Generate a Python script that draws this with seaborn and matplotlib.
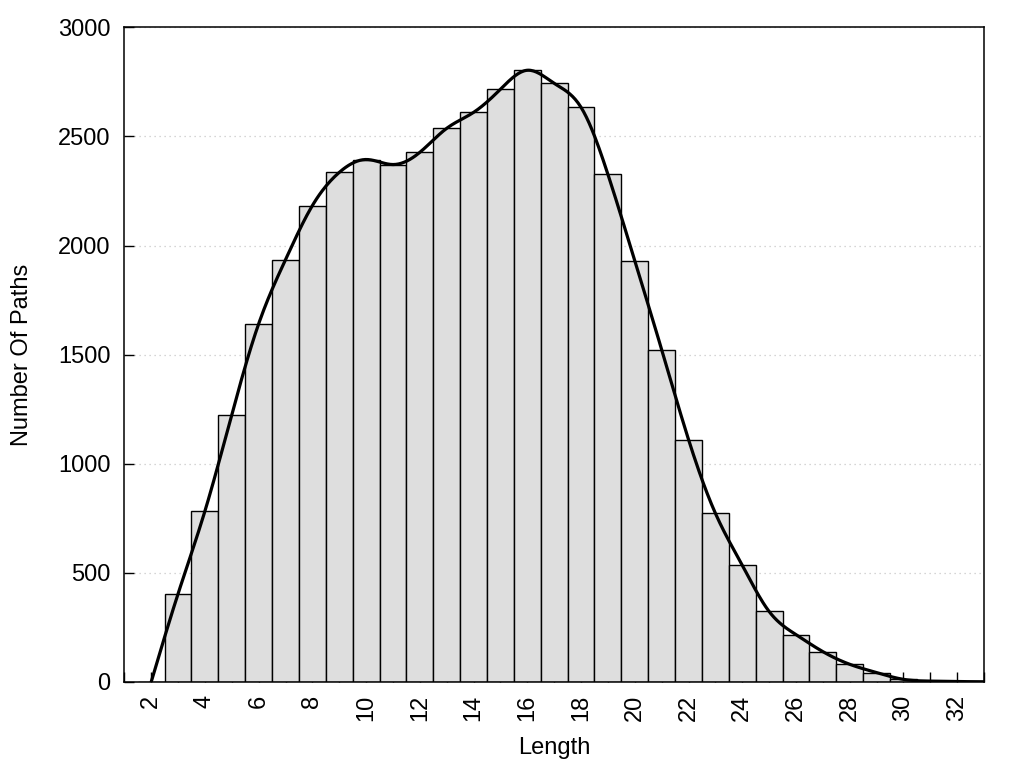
import numpy as np
import pandas as pd
import matplotlib
matplotlib.use("Agg")
import matplotlib.pyplot as plt
import seaborn as sns
from matplotlib.ticker import MultipleLocator, FuncFormatter

# path length -> number of paths
lengths = [2, 3, 4, 5, 6, 7, 8, 9, 10, 11, 12, 13, 14, 15, 16, 17,
           18, 19, 20, 21, 22, 23, 24, 25, 26, 27, 28, 29, 30, 31, 32, 33]
counts = [0, 404, 783, 1225, 1641, 1935, 2183, 2335, 2394, 2371, 2427, 2537,
          2610, 2716, 2803, 2743, 2633, 2326, 1930, 1523, 1111, 773, 535, 323,
          217, 139, 81, 43, 12, 4, 2, 1]

y_ticks = [0, 500, 1000, 1500, 2000, 2500, 3000]

df = pd.DataFrame({"Length": lengths, "Paths": counts})


def natural_spline(x, y, n_out=600):
    # natural cubic spline, same as gnuplot "smooth csplines"
    x = np.asarray(x, float)
    y = np.asarray(y, float)
    n = len(x)
    h = np.diff(x)
    A = np.zeros((n - 2, n - 2))
    rhs = np.zeros(n - 2)
    for i in range(1, n - 1):
        A[i - 1, i - 1] = 2 * (h[i - 1] + h[i])
        if i - 2 >= 0:
            A[i - 1, i - 2] = h[i - 1]
        if i < n - 2:
            A[i - 1, i] = h[i]
        rhs[i - 1] = 6 * ((y[i + 1] - y[i]) / h[i] - (y[i] - y[i - 1]) / h[i - 1])
    M = np.zeros(n)
    M[1:-1] = np.linalg.solve(A, rhs)
    xs = np.linspace(x[0], x[-1], n_out)
    idx = np.clip(np.searchsorted(x, xs) - 1, 0, n - 2)
    x0, x1 = x[idx], x[idx + 1]
    hh = x1 - x0
    ys = (M[idx] * (x1 - xs) ** 3 / (6 * hh)
          + M[idx + 1] * (xs - x0) ** 3 / (6 * hh)
          + (y[idx] - M[idx] * hh ** 2 / 6) * (x1 - xs) / hh
          + (y[idx + 1] - M[idx + 1] * hh ** 2 / 6) * (xs - x0) / hh)
    return xs, ys


sns.set_style("white")
plt.rcParams["font.family"] = ["Liberation Sans", "DejaVu Sans"]
plt.rcParams["font.size"] = 17
for key in ["text.color", "axes.labelcolor", "xtick.color", "ytick.color"]:
    plt.rcParams[key] = "black"

fig = plt.figure(figsize=(10.24, 7.68), dpi=100)
ax = fig.add_axes([0.1214, 0.112, 0.8396, 0.8525])
ax.set_axisbelow(True)

sns.histplot(data=df, x="Length", weights="Paths", discrete=True,
             color="#dedede", edgecolor="black", linewidth=1.0, alpha=1,
             ax=ax)

xs, ys = natural_spline(lengths, counts)
sns.lineplot(x=xs, y=ys, color="black", linewidth=2.3, ax=ax, sort=False)

ax.set_xlim(1, 33)
ax.set_ylim(0, 3000)
ax.set_yticks(y_ticks)
ax.xaxis.set_major_locator(MultipleLocator(1))
ax.xaxis.set_major_formatter(
    FuncFormatter(lambda v, p: f"{int(round(v))}" if int(round(v)) % 2 == 0 and 2 <= v <= 32 else ""))

ax.tick_params(axis="x", direction="in", length=7.5, width=1.0, pad=9,
               labelsize=17, rotation=90, bottom=True, top=False)
ax.tick_params(axis="y", direction="in", length=7.5, width=1.0, pad=10,
               labelsize=17, left=True, right=False)

ax.yaxis.grid(True, color="#c8c8c8", linestyle=(0, (1, 3)), linewidth=0.9)
ax.xaxis.grid(False)

for s in ax.spines.values():
    s.set_linewidth(1.1)
    s.set_color("black")

ax.set_xlabel("Length", fontsize=17)
ax.set_ylabel("Number Of Paths", fontsize=17)
ax.xaxis.set_label_coords(0.5, -0.084)
ax.yaxis.set_label_coords(-0.106, 0.5)

fig.savefig("out.png", dpi=100)
